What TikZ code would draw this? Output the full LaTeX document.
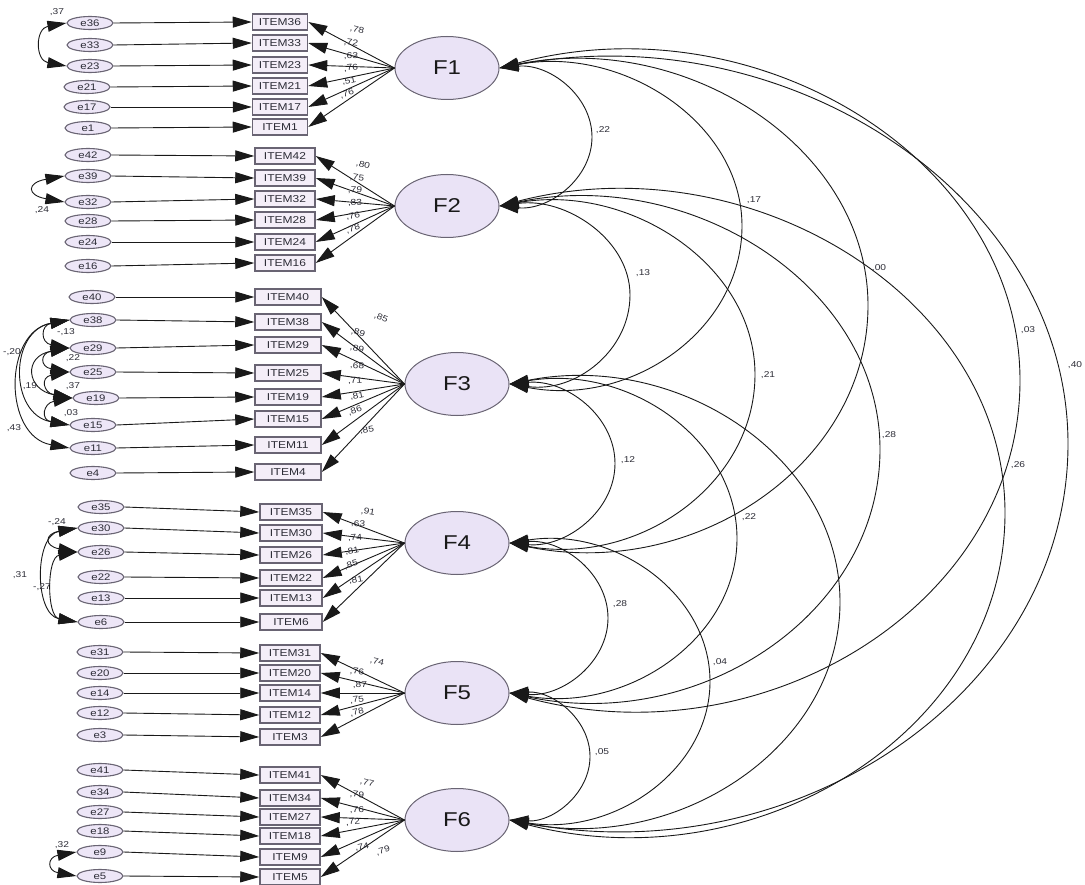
\documentclass[tikz,border=0pt]{standalone}
\usepackage{fontspec}
\usepackage{graphicx}
\setmainfont{Liberation Sans}
\usetikzlibrary{shapes.geometric,arrows.meta}

\definecolor{latfill}{RGB}{234,227,246}
\definecolor{obsfill}{RGB}{244,238,248}
\definecolor{errfill}{RGB}{237,230,247}
\definecolor{rim}{RGB}{105,100,115}
\definecolor{ink}{RGB}{25,25,25}
\definecolor{txt}{RGB}{45,45,55}

% AMOS-style lettering is a little wide
\newcommand\sx[1]{\scalebox{1.2}[1]{#1}}
% horizontal stretch of the correlation arcs
\def\kstr{1.2}

\tikzset{
  latent/.style={ellipse, draw=rim, fill=latfill, line width=1pt,
    minimum width=104pt, minimum height=63pt, inner sep=0pt, text=ink,
    font=\fontsize{20}{20}\selectfont},
  obs/.style={rectangle, draw=rim, fill=obsfill, line width=1.5pt,
    minimum height=16pt, inner sep=0pt, text=txt, font=\fontsize{10}{10}\selectfont},
  err/.style={ellipse, draw=rim, fill=errfill, line width=1.1pt,
    minimum width=46pt, minimum height=13pt, inner sep=0pt, text=txt,
    font=\fontsize{9.5}{9.5}\selectfont},
  tip/.tip={Triangle[length=19pt,width=11pt]},
  arr/.style={draw=ink, line width=0.9pt, -tip},
  cov/.style={draw=ink, line width=0.9pt, tip-tip},
  est/.style={inner sep=0.5pt, text=txt, font=\fontsize{8.5}{8.5}\selectfont},
}

% correlation arc between two factors: stretched circular arc through
% the rightmost point (#5, midway), built from two Bezier halves
% #1 top factor, #2 bottom factor, #3 top y, #4 bottom y, #5 rightmost x, #6 east x
\newcommand\corr[6]{%
  \pgfmathsetmacro\covS{(#5-#6)/\kstr}%
  \pgfmathsetmacro\covH{(#4-#3)/2}%
  \pgfmathsetmacro\covR{0.5*\covS+0.5*\covH*(\covH/\covS)}%
  \pgfmathsetmacro\covP{atan2(\covH,\covR-\covS)}%
  \pgfmathsetmacro\covL{4/3*tan(\covP/4)*\covR}%
  \pgfmathsetmacro\covX{\kstr*\covL*sin(\covP)}%
  \pgfmathsetmacro\covY{\covL*cos(\covP)}%
  \pgfmathsetmacro\covYn{-\covY}%
  \pgfmathsetmacro\covLn{-\covL}%
  \coordinate (m#1#2) at (#5,{(#3+#4)/2});
  \draw[cov] (#1.east) .. controls +(\covX,\covY) and +(0,\covLn) .. (m#1#2)
    .. controls +(0,\covL) and +(\covX,\covYn) .. (#2.east);
}

\begin{document}
\begin{tikzpicture}[x=1pt,y=-1pt]
\useasboundingbox (0,0) rectangle (1085,885);
\fill[white] (0,0) rectangle (1085,885);

% ---------- factors ----------
\node[latent] (F1) at (447,68)  {\sx{F1}};
\node[latent] (F2) at (447,206) {\sx{F2}};
\node[latent] (F3) at (457,384) {\sx{F3}};
\node[latent] (F4) at (457,543) {\sx{F4}};
\node[latent] (F5) at (457,693) {\sx{F5}};
\node[latent] (F6) at (457,820) {\sx{F6}};

% ---------- indicators ----------
\foreach \n/\y in {36/22,33/43,23/65,21/86,17/107,1/127}
  \node[obs,minimum width=55pt] (i\n) at (280,\y) {\sx{ITEM\n}};
\foreach \n/\y in {42/156,39/178,32/199,28/220,24/242,16/263}
  \node[obs,minimum width=60pt] (i\n) at (285,\y) {\sx{ITEM\n}};
\foreach \n/\y in {40/297,38/322,29/345,25/373,19/397,15/419,11/445,4/472}
  \node[obs,minimum width=66pt] (i\n) at (288,\y) {\sx{ITEM\n}};
\foreach \n/\y in {35/512,30/533,26/555,22/578,13/598,6/622}
  \node[obs,minimum width=62pt] (i\n) at (291,\y) {\sx{ITEM\n}};
\foreach \n/\y in {31/653,20/673,14/693,12/715,3/737}
  \node[obs,minimum width=60pt] (i\n) at (290,\y) {\sx{ITEM\n}};
\foreach \n/\y in {41/775,34/798,27/817,18/836,9/857,5/877}
  \node[obs,minimum width=60pt] (i\n) at (290,\y) {\sx{ITEM\n}};

% ---------- error terms ----------
\foreach \n/\x/\y in {36/90/23,33/90/45,23/90/66,21/87/87,17/87/107,1/88/128,
    42/88/155,39/88/176,32/88/202,28/88/221,24/88/242,16/88/266,
    40/92/297,38/93/320,29/93/348,25/93/372,19/96/398,15/93/425,11/93/448,4/93/473,
    35/101/507,30/101/528,26/101/552,22/101/577,13/101/598,6/101/622,
    31/100/652,20/100/673,14/100/693,12/100/713,3/100/735,
    41/100/770,34/100/792,27/100/812,18/100/831,9/100/852,5/100/876}
  \node[err] (e\n) at (\x,\y) {\sx{e\n}};

% ---------- error paths and loadings ----------
\foreach \n in {36,33,23,21,17,1}
  {\draw[arr] (e\n.east) -- (i\n.west); \draw[arr] (F1.west) -- (i\n.east);}
\foreach \n in {42,39,32,28,24,16}
  {\draw[arr] (e\n.east) -- (i\n.west); \draw[arr] (F2.west) -- (i\n.east);}
\foreach \n in {40,38,29,25,19,15,11,4}
  {\draw[arr] (e\n.east) -- (i\n.west); \draw[arr] (F3.west) -- (i\n.east);}
\foreach \n in {35,30,26,22,13,6}
  {\draw[arr] (e\n.east) -- (i\n.west); \draw[arr] (F4.west) -- (i\n.east);}
\foreach \n in {31,20,14,12,3}
  {\draw[arr] (e\n.east) -- (i\n.west); \draw[arr] (F5.west) -- (i\n.east);}
\foreach \n in {41,34,27,18,9,5}
  {\draw[arr] (e\n.east) -- (i\n.west); \draw[arr] (F6.west) -- (i\n.east);}

% standardized loadings
\foreach \x/\y/\r/\t [count=\k] in {
    357/30/-28/78, 351/43/-16/72, 351/56/-2/63, 351/68/12/76, 349/81/24/51, 347/94/34/76,
    363/165/-30/80, 357/178/-18/75, 355/190/-5/79, 355/203/9/83, 353/216/22/76, 353/229/33/78,
    381/318/-46/85, 358/333/-37/89, 357/349/-25/89, 357/366/-7/68, 355/381/9/71,
    357/396/23/81, 355/411/36/86, 367/430/20/85,
    368/512/-20/91, 358/524/-7/63, 355/538/8/74, 352/551/22/81, 351/565/33/85, 356/580/20/81,
    377/662/-25/74, 357/672/-13/76, 360/685/0/87, 357/700/14/75, 357/712/27/78,
    367/783/-28/77, 357/795/-15/79, 357/810/-2/76, 353/822/11/72, 362/847/24/74, 383/851/34/79}
  \node[est,rotate={0.5*\r}] (ld\k) at (\x,\y) {\sx{,\t}};

% ---------- error covariances ----------
\draw[cov] (e36.west) to[out=190,in=170,looseness=1.9] (e23.west);
\node[est] (c1) at (57,12) {\sx{,37}};
\draw[cov] (e39.west) to[out=190,in=170,looseness=3.8] (e32.west);
\node[est] (c2) at (42,210) {\sx{,24}};

\draw[cov] (e38.west) to[out=190,in=170,looseness=2.7] (e29.west);
\node[est] (c3) at (66,332) {\sx{-,13}};
\draw[cov] (e29.west) to[out=190,in=170,looseness=3.2] (e25.west);
\node[est] (c4) at (73,358) {\sx{,22}};
\draw[cov] (e25.west) to[out=190,in=170,looseness=2.9] (e19.west);
\node[est] (c5) at (73,386) {\sx{,37}};
\draw[cov] (e19.west) to[out=190,in=170,looseness=2.8] (e15.west);
\node[est] (c6) at (71,413) {\sx{,03}};
\draw[cov] (e29.west) to[out=190,in=170,looseness=2.4] (e19.west);
\node[est] (c7) at (30,386) {\sx{,19}};
\draw[cov] (e38.west) to[out=190,in=170,looseness=1.5] (e15.west);
\node[est] (c8) at (12,352) {\sx{-,20}};
\draw[cov] (e38.west) to[out=190,in=170,looseness=1.35] (e11.west);
\node[est] (c9) at (14,428) {\sx{,43}};

\draw[cov] (e30.west) to[out=190,in=170,looseness=3.6] (e26.west);
\node[est] (c10) at (57,522) {\sx{-,24}};
\draw[cov] (e30.west) to[out=190,in=170,looseness=1.2] (e6.west);
\node[est] (c11) at (20,575) {\sx{,31}};
\draw[cov] (e26.west) to[out=190,in=170,looseness=1.15] (e6.west);
\node[est] (c12) at (42,587) {\sx{-,27}};

\draw[cov] (e9.west) to[out=190,in=170,looseness=3.2] (e5.west);
\node[est] (c13) at (62,845) {\sx{,32}};

% ---------- factor correlations ----------
\corr{F1}{F2}{68}{206}{592}{499}
\corr{F2}{F3}{206}{384}{630}{504}
\corr{F3}{F4}{384}{543}{615}{509}
\corr{F4}{F5}{543}{693}{608}{509}
\corr{F5}{F6}{693}{820}{590}{509}
\corr{F1}{F3}{68}{384}{742}{504}
\corr{F2}{F4}{206}{543}{755}{504}
\corr{F3}{F5}{384}{693}{737}{509}
\corr{F4}{F6}{543}{820}{710}{509}
\corr{F1}{F4}{68}{543}{868}{504}
\corr{F2}{F5}{206}{693}{880}{504}
\corr{F3}{F6}{384}{820}{840}{509}
\corr{F1}{F5}{68}{693}{1020}{504}
\corr{F2}{F6}{206}{820}{1005}{504}
\corr{F1}{F6}{68}{820}{1068}{504}

\node[est] (r12) at (603,130)  {\sx{,22}};
\node[est] (r13) at (754,200)  {\sx{,17}};
\node[est] (r14) at (879,268)  {\sx{,00}};
\node[est] (r15) at (1028,330) {\sx{,03}};
\node[est] (r16) at (1075,365) {\sx{,40}};
\node[est] (r23) at (643,273)  {\sx{,13}};
\node[est] (r24) at (768,375)  {\sx{,21}};
\node[est] (r25) at (889,435)  {\sx{,28}};
\node[est] (r26) at (1018,465) {\sx{,26}};
\node[est] (r34) at (628,460)  {\sx{,12}};
\node[est] (r35) at (749,517)  {\sx{,22}};
\node[est] (r46) at (720,662)  {\sx{,04}};
\node[est] (r45) at (620,604)  {\sx{,28}};
\node[est] (r56) at (602,752)  {\sx{,05}};
\end{tikzpicture}
\end{document}
